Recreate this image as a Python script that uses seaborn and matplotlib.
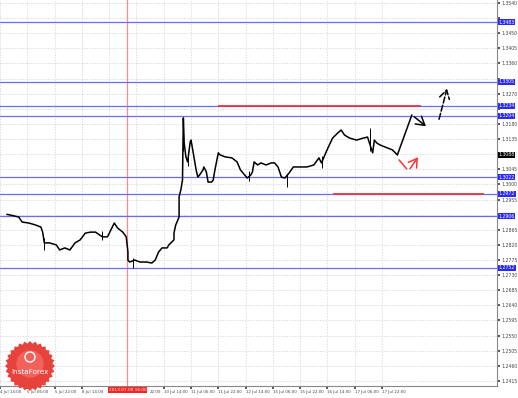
import numpy as np
import pandas as pd
import seaborn as sns
import matplotlib.pyplot as plt
from matplotlib.patches import Polygon, Circle
from matplotlib.transforms import IdentityTransform, ScaledTranslation

# ---- data (hourly bar index from 4 Jul 14:00, price) ----
bars = [4, 6, 11, 13, 17, 21, 24, 25, 26, 29, 33, 35, 38, 41, 44, 47, 50, 53, 56, 60, 63,
        67, 69, 72, 74, 75, 75, 76, 79, 82, 86, 89, 91, 93, 95, 98, 99, 102, 102, 103, 105,
        105, 106, 107, 107.5, 108, 109, 110, 111.5, 112, 113, 114, 115, 116, 117, 119, 119.5,
        121, 122, 124, 125, 126, 128, 129, 132, 136, 139, 141, 142.5, 145, 147, 148, 149, 151,
        153, 156, 159, 161, 163, 165, 167, 169.5, 172, 176, 180, 184, 187, 188.5, 191, 192.5,
        195, 198, 200, 202, 205, 209, 213, 215.5, 218.5, 219.5, 221, 223, 226, 230, 233]
prices = [1.2911, 1.2909, 1.2903, 1.2888, 1.2885, 1.2879, 1.2873, 1.2858, 1.2826, 1.2826, 1.2820,
          1.2805, 1.2811, 1.2805, 1.2826, 1.2835, 1.2855, 1.2858, 1.2858, 1.2844, 1.2844,
          1.2885, 1.2870, 1.2858, 1.2844, 1.2799, 1.2775, 1.2769, 1.2775, 1.2769, 1.2769,
          1.2766, 1.2775, 1.2799, 1.2811, 1.2811, 1.2820, 1.2835, 1.2855, 1.2879, 1.2903,
          1.2963, 1.2983, 1.3013, 1.3198, 1.3123, 1.3082, 1.3067, 1.3126, 1.3132, 1.3103,
          1.3073, 1.3043, 1.3022, 1.3028, 1.3043, 1.3052, 1.3037, 1.3007, 1.3007, 1.3013,
          1.3043, 1.3094, 1.3088, 1.3082, 1.3079, 1.3067, 1.3043, 1.3034, 1.3019, 1.3028,
          1.3037, 1.3067, 1.3058, 1.3064, 1.3058, 1.3064, 1.3064, 1.3052, 1.3022, 1.3019,
          1.3034, 1.3052, 1.3052, 1.3052, 1.3058, 1.3079, 1.3064, 1.3094, 1.3111, 1.3138,
          1.3153, 1.3162, 1.3147, 1.3138, 1.3132, 1.3138, 1.3141, 1.3094, 1.3132, 1.3123,
          1.3117, 1.3111, 1.3103, 1.3088]

# notable wicks
wick_bar = [26, 78, 107.5, 168, 217, 189, 110, 60, 146]
wick_low = [1.2805, 1.2751, 1.3100, 1.2992, 1.3100, 1.3050, 1.3055, 1.2835, 1.3010]
wick_high = [1.2840, 1.2780, 1.3200, 1.3030, 1.3168, 1.3085, 1.3100, 1.2860, 1.3040]

# levels
blue_levels = [1.3483, 1.3305, 1.3234, 1.3204, 1.3022, 1.2972, 1.2906, 1.2752]
blue_labels = ["1.3483", "1.3305", "1.3234", "1.3204", "1.3022", "1.2972", "1.2906", "1.2752"]
red_upper = (128, 247, 1.3233)
red_lower = (195, 284, 1.2972)
current_price = 1.3088
marker_bar = 74.7
marker_label = "2013.07.09 16:00"

# forecast arrows (bar, price)
black_path_bar = [233, 241.5, 251]
black_path_price = [1.3088, 1.3207, 1.3168]
black_arrow2 = [(257, 1.3186), (262.5, 1.3293)]
red_seg = [(234, 1.3073), (238.5, 1.3046)]
red_arrow = [(239.5, 1.3040), (246, 1.3088)]

ytick_vals = [1.3540, 1.3495, 1.3450, 1.3405, 1.3360, 1.3315, 1.3270, 1.3225, 1.3180,
              1.3135, 1.3090, 1.3045, 1.3000, 1.2955, 1.2910, 1.2865, 1.2820, 1.2775,
              1.2730, 1.2685, 1.2640, 1.2595, 1.2550, 1.2505, 1.2460, 1.2415]
xtick_bars = [0, 16, 32, 48, 64, 80, 96, 112, 128, 144, 160, 176, 192, 208, 224]
xtick_labels = ["4 Jul 14:00", "5 Jul 06:00", "5 Jul 22:00", "8 Jul 14:00", "9 Jul 06:00",
                "9 Jul 22:00", "10 Jul 14:00", "11 Jul 06:00", "11 Jul 22:00", "12 Jul 14:00",
                "15 Jul 06:00", "15 Jul 22:00", "16 Jul 14:00", "17 Jul 06:00", "17 Jul 22:00"]

sns.set_theme(style="white")
plt.rcParams['font.family'] = ['DejaVu Sans']

fig = plt.figure(figsize=(5.18, 3.98), dpi=100)
ax = fig.add_axes([0, 12 / 398, 497 / 518, 386 / 398])

ax.set_xlim(5.75, 291.4)
ax.set_ylim(1.2400, 1.3549)

# y tick labels: hide the ones covered by level boxes
box_vals = blue_levels + [current_price]
ylabels = []
for v in ytick_vals:
    hidden = any(abs(v - b) < 0.0015 for b in box_vals)
    ylabels.append("" if hidden else f"{v:.4f}")
ax.set_yticks(ytick_vals)
ax.set_yticklabels(ylabels)

# x tick labels: the one under the marker box is hidden, the next is partly covered
xlabels = []
for b, lab in zip(xtick_bars, xtick_labels):
    if abs(b - marker_bar) < 12:
        if b < marker_bar:
            xlabels.append("")
        else:
            xlabels.append(lab.split(" ")[-1])
    else:
        xlabels.append(lab)
ax.set_xticks(xtick_bars)
ax.set_xticklabels(xlabels)
ax.yaxis.tick_right()
ax.tick_params(axis='y', labelsize=3.3, length=2, pad=1, colors='#444444', direction='out', right=True)
ax.tick_params(axis='x', labelsize=2.9, length=2, pad=1, colors='#444444', direction='out', bottom=True)
for b, lbl in zip(xtick_bars, ax.get_xticklabels()):
    lbl.set_ha('left')
    if 0 < b - marker_bar < 12:
        lbl.set_transform(lbl.get_transform() + ScaledTranslation(13 / 100, 0, fig.dpi_scale_trans))
ax.grid(True, ls=(0, (2, 2)), color='#cfcfcf', lw=0.5)
for s in ['top', 'left']:
    ax.spines[s].set_visible(False)
for s in ['right', 'bottom']:
    ax.spines[s].set_color('#888888')
    ax.spines[s].set_linewidth(0.8)

# marker vertical line
ax.axvline(marker_bar, color='#ff8a8a', lw=0.9, zorder=1)

# blue levels
for lv in blue_levels:
    ax.axhline(lv, color='#6a6aff', lw=0.9, zorder=2)

# red levels
ax.hlines([red_upper[2]], red_upper[0], red_upper[1], color='#e8383a', lw=1.3, zorder=3)
ax.hlines([red_lower[2]], red_lower[0], red_lower[1], color='#e8383a', lw=1.3, zorder=3)

# price
df = pd.DataFrame({"bar": bars, "price": prices})
sns.lineplot(data=df, x="bar", y="price", color='black', lw=1.1, ax=ax,
             estimator=None, sort=False, zorder=4)
ax.vlines(wick_bar, wick_low, wick_high, color='black', lw=0.7, zorder=4)
ax.set_xlabel("")
ax.set_ylabel("")

# forecast arrows
ax.plot(black_path_bar[:2], black_path_price[:2], color='black', lw=1.1, zorder=5)
ax.annotate("", xy=(black_path_bar[2], black_path_price[2]),
            xytext=(black_path_bar[1], black_path_price[1]),
            arrowprops=dict(arrowstyle="->,head_length=0.5,head_width=0.3", color='black', lw=1.1))
ax.annotate("", xy=black_arrow2[1], xytext=black_arrow2[0],
            arrowprops=dict(arrowstyle="->,head_length=0.5,head_width=0.3", color='black', lw=1.1,
                            linestyle=(0, (4, 1.5))))
ax.plot([red_seg[0][0], red_seg[1][0]], [red_seg[0][1], red_seg[1][1]], color='#ff3030', lw=1.1, zorder=5)
ax.annotate("", xy=red_arrow[1], xytext=red_arrow[0],
            arrowprops=dict(arrowstyle="->,head_length=0.5,head_width=0.3", color='#ff3030', lw=1.1))

# right side level labels
ytr = ax.get_yaxis_transform()
for lv, lab in zip(blue_levels, blue_labels):
    ax.text(1.003, lv, lab, transform=ytr, ha='left', va='center', fontsize=3.3, color='white',
            bbox=dict(boxstyle='square,pad=0.15', fc='#2a2aff', ec='none'), clip_on=False, zorder=6)
ax.text(1.003, current_price, f"{current_price:.4f}", transform=ytr, ha='left', va='center',
        fontsize=3.3, color='white', bbox=dict(boxstyle='square,pad=0.15', fc='black', ec='none'),
        clip_on=False, zorder=6)

# marker date label
xtr = ax.get_xaxis_transform()
ax.text(marker_bar, -0.006, marker_label, transform=xtr, ha='center', va='top', fontsize=3.1,
        color='white', bbox=dict(boxstyle='square,pad=0.25', fc='#ff2020', ec='none'),
        clip_on=False, zorder=7)

# InstaForex badge (pixel coordinates, origin bottom-left)
cx, cy, r = 30, 398 - 366, 25
n = 28
ang = np.linspace(0, 2 * np.pi, 2 * n, endpoint=False)
rad = np.where(np.arange(2 * n) % 2 == 0, r, r * 0.9)
pts = np.column_stack([cx + rad * np.cos(ang), cy + rad * np.sin(ang)])
fig.patches.append(Polygon(pts, closed=True, fc='#e8423c', ec='none',
                           transform=IdentityTransform(), figure=fig, zorder=10))
fig.patches.append(Circle((cx, cy + 2), r * 0.55, fc='#f0625a', ec='none',
                          transform=IdentityTransform(), figure=fig, zorder=10))
fig.patches.append(Circle((cx, cy + 9), 5, fc='none', ec='white', lw=1.0,
                          transform=IdentityTransform(), figure=fig, zorder=11))
fig.text(cx / 518, (cy - 6) / 398, "InstaForex", ha='center', va='center', fontsize=5.2,
         color='white', zorder=12)

fig.savefig("out.png", dpi=100, facecolor='white')
